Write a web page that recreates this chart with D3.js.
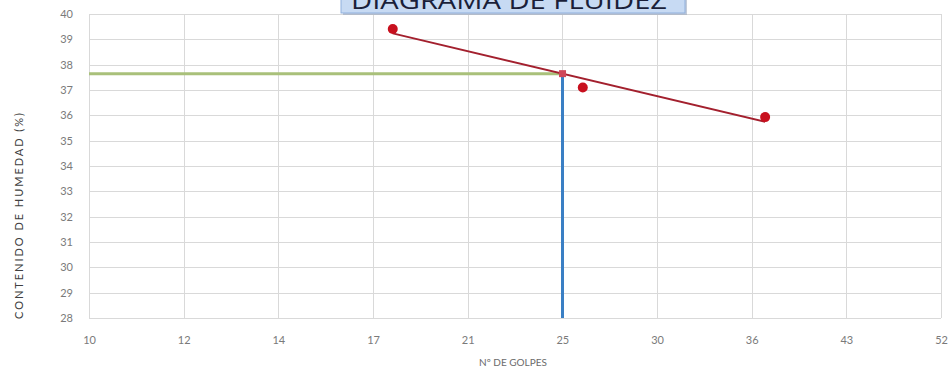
<!DOCTYPE html>
<html>
<head>
<meta charset="utf-8">
<script src="https://cdn.jsdelivr.net/npm/d3@7"></script>
<style>
  html, body { margin: 0; padding: 0; background: #ffffff; }
  svg { display: block; }
</style>
</head>
<body>
<svg id="chart" width="952" height="370"></svg>
<script>
// Casagrande flow-curve data: number of blows vs. moisture content
const golpes = [18, 26, 37];
const humedad = [39.41, 37.10, 35.93];
const golpesReferencia = 25;

// Axis extents and tick labels
const xDomain = [10, 52];
const yDomain = [28, 40];
const xTickLabels = ["10", "12", "14", "17", "21", "25", "30", "36", "43", "52"];
const yTicks = [28, 29, 30, 31, 32, 33, 34, 35, 36, 37, 38, 39, 40];

const titulo = "DIAGRAMA  DE  FLUIDEZ";
const tituloEjeX = "Nº DE GOLPES";
const tituloEjeY = "CONTENIDO DE HUMEDAD (%)";

const W = 952, H = 370;
const m = { left: 89, right: 11, top: 14, bottom: 52 };

const svg = d3.select("#chart");
const x = d3.scaleLog().domain(xDomain).range([m.left, W - m.right]);
const y = d3.scaleLinear().domain(yDomain).range([H - m.bottom, m.top]);

// log-axis ticks evenly spaced between the extents
const n = xTickLabels.length - 1;
const xTickValues = xTickLabels.map((_, i) => xDomain[0] * Math.pow(xDomain[1] / xDomain[0], i / n));

// gridlines
const grid = svg.append("g").attr("stroke", "#d9d9d9").attr("stroke-width", 1);
grid.selectAll("line.h").data(yTicks).join("line")
  .attr("x1", m.left).attr("x2", W - m.right)
  .attr("y1", d => Math.round(y(d)) + 0.5).attr("y2", d => Math.round(y(d)) + 0.5);
grid.selectAll("line.v").data(xTickValues).join("line")
  .attr("y1", m.top).attr("y2", H - m.bottom)
  .attr("x1", d => Math.round(x(d)) + 0.5).attr("x2", d => Math.round(x(d)) + 0.5);

// axes (labels only, Excel-like)
const xAxis = d3.axisBottom(x).tickValues(xTickValues)
  .tickFormat((d, i) => xTickLabels[i]).tickSize(0).tickPadding(18);
svg.append("g").attr("transform", `translate(0,${H - m.bottom})`).call(xAxis)
  .call(g => g.select(".domain").remove())
  .call(g => g.selectAll("text").attr("fill", "#7a7a7a")
    .style("font-family", "Lato, 'Open Sans', sans-serif").style("font-size", "11px"));

const yAxis = d3.axisLeft(y).tickValues(yTicks).tickSize(0).tickPadding(16);
svg.append("g").attr("transform", `translate(${m.left},0)`).call(yAxis)
  .call(g => g.select(".domain").remove())
  .call(g => g.selectAll("text").attr("fill", "#7a7a7a")
    .style("font-family", "Lato, 'Open Sans', sans-serif").style("font-size", "11px"));

// axis titles
svg.append("text")
  .attr("x", 513).attr("y", 366)
  .attr("text-anchor", "middle")
  .attr("fill", "#6b6b6b")
  .style("font-family", "Lato, 'Open Sans', sans-serif").style("font-size", "10px")
  .text(tituloEjeX);

svg.append("text")
  .attr("transform", "translate(23,216) rotate(-90)")
  .attr("text-anchor", "middle")
  .attr("fill", "#404040")
  .style("font-family", "Lato, 'Open Sans', sans-serif").style("font-size", "11px")
  .attr("textLength", 206).attr("lengthAdjust", "spacing")
  .text(tituloEjeY);

// least-squares fit of moisture against log(blows)
const lx = golpes.map(Math.log);
const mx = d3.mean(lx), my = d3.mean(humedad);
const slope = d3.sum(lx, (v, i) => (v - mx) * (humedad[i] - my)) / d3.sum(lx, v => (v - mx) ** 2);
const fit = g => my + slope * (Math.log(g) - mx);
const limiteLiquido = fit(golpesReferencia);

// liquid limit guides
svg.append("line")
  .attr("x1", x(xDomain[0])).attr("x2", x(golpesReferencia))
  .attr("y1", y(limiteLiquido)).attr("y2", y(limiteLiquido))
  .attr("stroke", "#a9c07a").attr("stroke-width", 3);
svg.append("line")
  .attr("x1", x(golpesReferencia)).attr("x2", x(golpesReferencia))
  .attr("y1", y(limiteLiquido)).attr("y2", y(yDomain[0]))
  .attr("stroke", "#3a7fc4").attr("stroke-width", 3);

// flow line
const gMin = d3.min(golpes), gMax = d3.max(golpes);
svg.append("line")
  .attr("x1", x(gMin)).attr("y1", y(fit(gMin)))
  .attr("x2", x(gMax)).attr("y2", y(fit(gMax)))
  .attr("stroke", "#a3202e").attr("stroke-width", 2);

// intersection marker
svg.append("rect")
  .attr("x", x(golpesReferencia) - 3.5).attr("y", y(limiteLiquido) - 3.5)
  .attr("width", 7).attr("height", 7)
  .attr("fill", "#d0485a");

// measured points
svg.append("g").selectAll("circle").data(golpes).join("circle")
  .attr("cx", d => x(d)).attr("cy", (d, i) => y(humedad[i]))
  .attr("r", 5).attr("fill", "#c8101e");

// title box
const tb = svg.append("g");
tb.append("rect").attr("x", 343).attr("y", -10).attr("width", 344).attr("height", 25)
  .attr("fill", "#9aa9c0").attr("opacity", 0.6);
tb.append("rect").attr("x", 341).attr("y", -12).attr("width", 344).attr("height", 25)
  .attr("fill", "#c7daf3").attr("stroke", "#8fb0dd").attr("stroke-width", 1);
tb.append("text")
  .attr("x", 351).attr("y", 9)
  .attr("fill", "#1a1f3a")
  .style("font-family", "'Open Sans', sans-serif").style("font-size", "24px")
  .attr("textLength", 316).attr("lengthAdjust", "spacingAndGlyphs")
  .text(titulo);
</script>
</body>
</html>
